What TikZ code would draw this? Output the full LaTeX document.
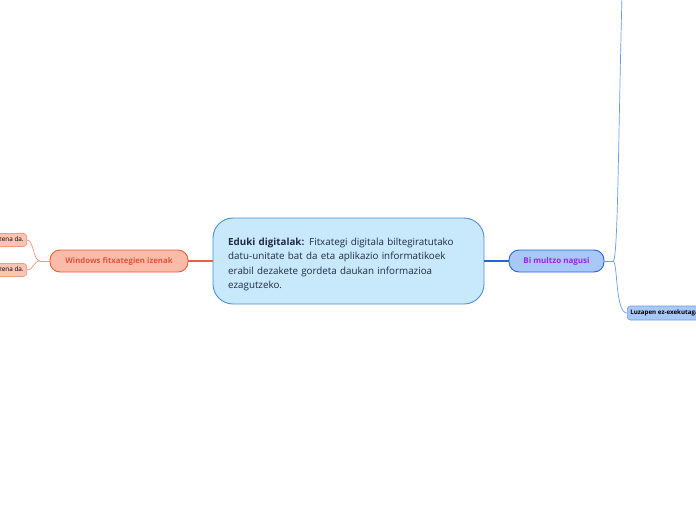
\documentclass[tikz,border=0pt]{standalone}
\usepackage{fontspec}
\setmainfont{Open Sans}
\definecolor{cfill}{HTML}{C7E9FB}
\definecolor{cdraw}{HTML}{4A90D9}
\definecolor{wfill}{HTML}{FABBA8}
\definecolor{wdraw}{HTML}{E8603C}
\definecolor{wtext}{HTML}{E0563A}
\definecolor{lfill}{HTML}{FBC3B2}
\definecolor{ldraw}{HTML}{F29B80}
\definecolor{bfill}{HTML}{A8C8F8}
\definecolor{bdraw}{HTML}{2566D6}
\definecolor{btext}{HTML}{A020F0}
\definecolor{rdraw}{HTML}{6F9BE8}
\definecolor{ctext}{HTML}{1F2A44}
\tikzset{
  central/.style={draw=cdraw, fill=cfill, line width=0.9pt, rounded corners=20pt, minimum width=271pt, minimum height=86pt, inner sep=0pt},
  mainL/.style={draw=wdraw, fill=wfill, line width=0.9pt, rounded corners=10pt, minimum width=138pt, minimum height=22pt, inner sep=0pt, text=wtext, font=\fontsize{7.8}{9}\selectfont\bfseries},
  mainR/.style={draw=bdraw, fill=bfill, line width=0.9pt, rounded corners=10pt, minimum width=95pt, minimum height=22pt, inner sep=0pt, text=btext, font=\fontsize{8}{9}\selectfont\bfseries},
  leafL/.style={draw=ldraw, fill=lfill, line width=0.6pt, rounded corners=3pt, minimum height=13pt, inner xsep=3pt, inner ysep=0pt, text=black, font=\fontsize{6.4}{7}\selectfont},
  leafR/.style={draw=rdraw, fill=bfill, line width=0.6pt, rounded corners=3pt, minimum height=14pt, inner xsep=3pt, inner ysep=0pt, text=black, font=\fontsize{6.2}{7}\selectfont\bfseries},
  conL/.style={draw=wdraw, line width=1.1pt},
  conLl/.style={draw=ldraw, line width=0.7pt},
  conR/.style={draw=bdraw, line width=1.1pt},
  conRl/.style={draw=rdraw, line width=0.7pt}
}
\begin{document}
\begin{tikzpicture}[x=1pt,y=-1pt]
\fill[white] (0,0) rectangle (696,520);
\useasboundingbox (0,0) rectangle (696,520);
\clip (0,0) rectangle (696,520);
\coordinate (wf) at (40,261);
\coordinate (bf) at (613,261);
\coordinate (topend) at (622,-5);
\node[central] (c) at (348.5,261) {};
\node[mainL] (w) at (119,261) {Windows fitxategien izenak};
\node[mainR] (b) at (556.5,261) {Bi multzo nagusi};
\node[leafL, anchor=east] (l1) at (27,240) {Fitxategiaren izena da.};
\node[leafL, anchor=east] (l2) at (27,270) {Luzapenaren izena da.};
\node[leafR, anchor=west] (r2) at (627,313) {Luzapen ez-exekutagarriak};
\draw[conL] (c.west) -- (w.east);
\draw[conR] (c.east) -- (b.west);
\draw[conLl] (w.west) -- (wf);
\draw[conLl] (wf) .. controls (33,261) and (34,240) .. (l1.east);
\draw[conLl] (wf) .. controls (33,261) and (34,270) .. (l2.east);
\draw[conRl] (b.east) -- (bf);
\draw[conRl] (bf) .. controls (618,261) and (618,150) .. (topend);
\draw[conRl] (bf) .. controls (618,262) and (615,313) .. (r2.west);
\node[anchor=north west, align=left, text width=240pt, text=ctext, font=\fontsize{9.8}{14.3}\selectfont, inner sep=0pt] (ct) at (228,238) {\textbf{Eduki digitalak:} Fitxategi digitala biltegiratutako datu-unitate bat da eta aplikazio informatikoek erabil dezakete gordeta daukan informazioa ezagutzeko.};
\end{tikzpicture}
\end{document}
